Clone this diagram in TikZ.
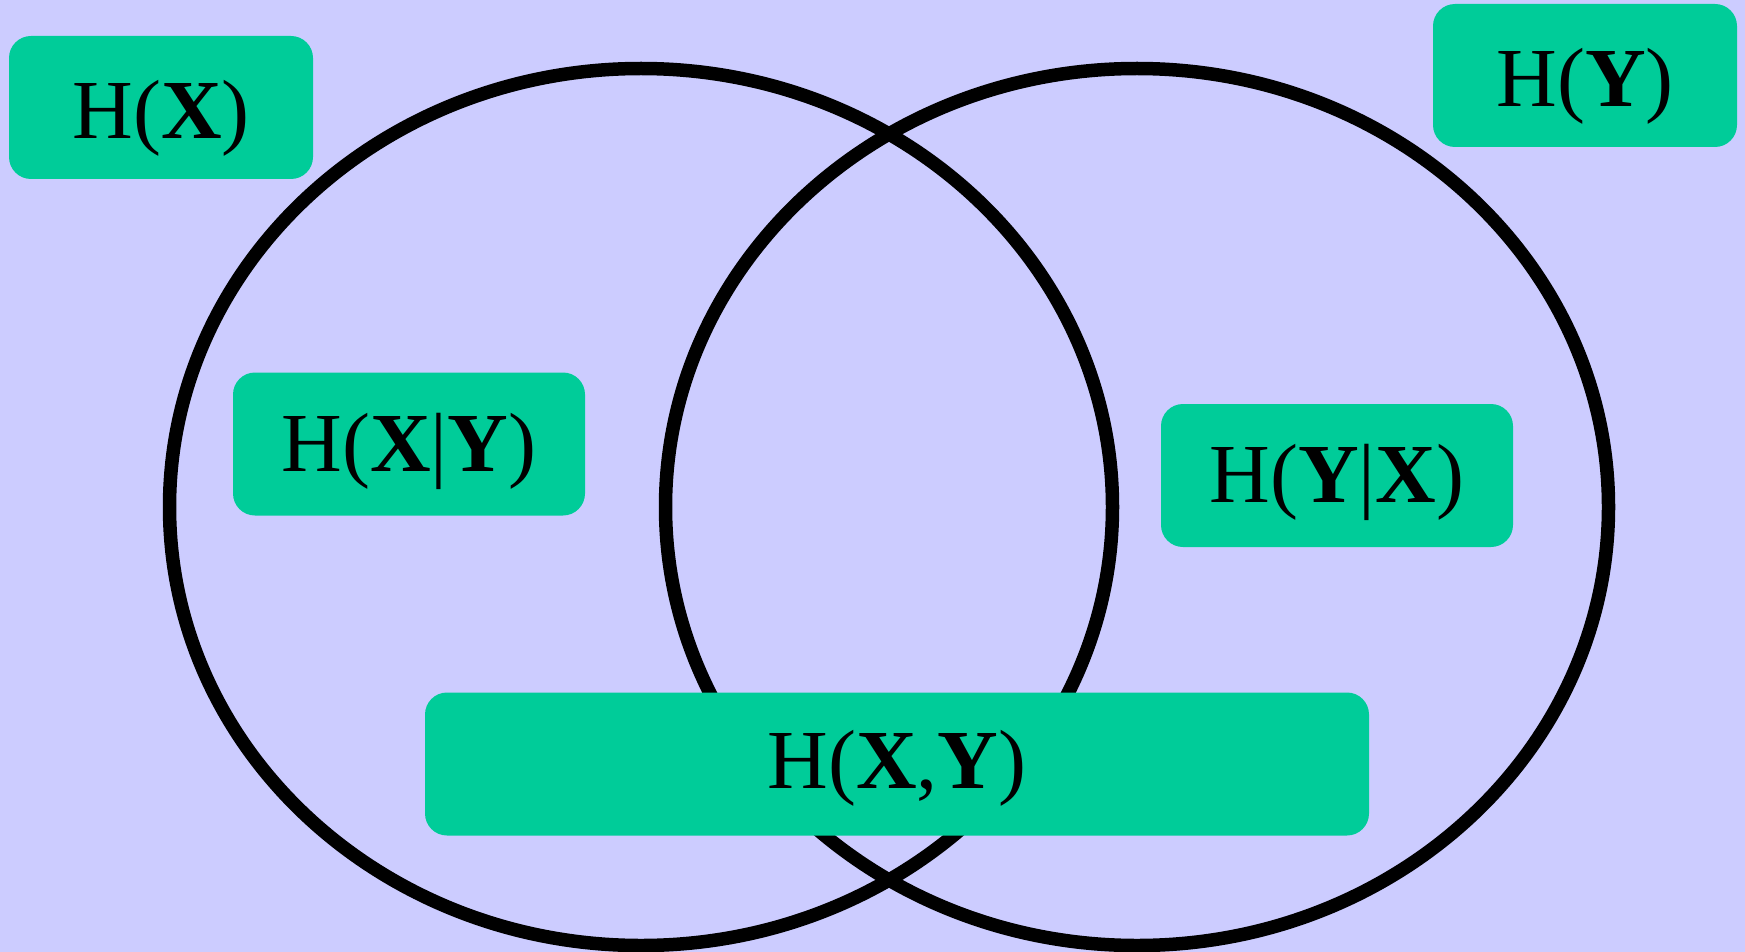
\documentclass[tikz,border=0pt]{standalone}
\usepackage{fontspec}
\setmainfont{Liberation Serif}
\definecolor{bgcol}{RGB}{204,204,255}
\definecolor{boxcol}{RGB}{0,204,153}
\newcommand{\rv}[1]{\textbf{#1}}
\begin{document}
\begin{tikzpicture}[x=1pt,y=-1pt,
  entropybox/.style={fill=boxcol, draw=none, rounded corners=22pt, inner sep=0pt,
    minimum height=143pt, text height=62pt, text depth=0pt,
    font=\fontsize{84}{100}\selectfont},
  setline/.style={draw=black, line width=13.5pt}]
  % background
  \fill[bgcol] (0,0) rectangle (1745,952);
  \useasboundingbox (0,0) rectangle (1745,952);
  % the two sets
  \draw[setline] (641,507) ellipse [x radius=471.5pt, y radius=438.5pt];
  \draw[setline] (1137,507) ellipse [x radius=471.5pt, y radius=438.5pt];
  % entropy labels
  \node[entropybox, minimum width=304pt] (hx)  at (161,107.5) {H(\rv{X})};
  \node[entropybox, minimum width=304pt] (hy)  at (1585,75.5) {H(\rv{Y})};
  \node[entropybox, minimum width=352pt, text height=54pt] (hxy) at (409,444) {H(\rv{X}|\rv{Y})};
  \node[entropybox, minimum width=352pt, text height=54pt] (hyx) at (1337,475.5) {H(\rv{Y}|\rv{X})};
  \node[entropybox, minimum width=944pt, text height=49pt] (hjoint) at (897,764) {H(\rv{X},\rv{Y})};
\end{tikzpicture}
\end{document}
